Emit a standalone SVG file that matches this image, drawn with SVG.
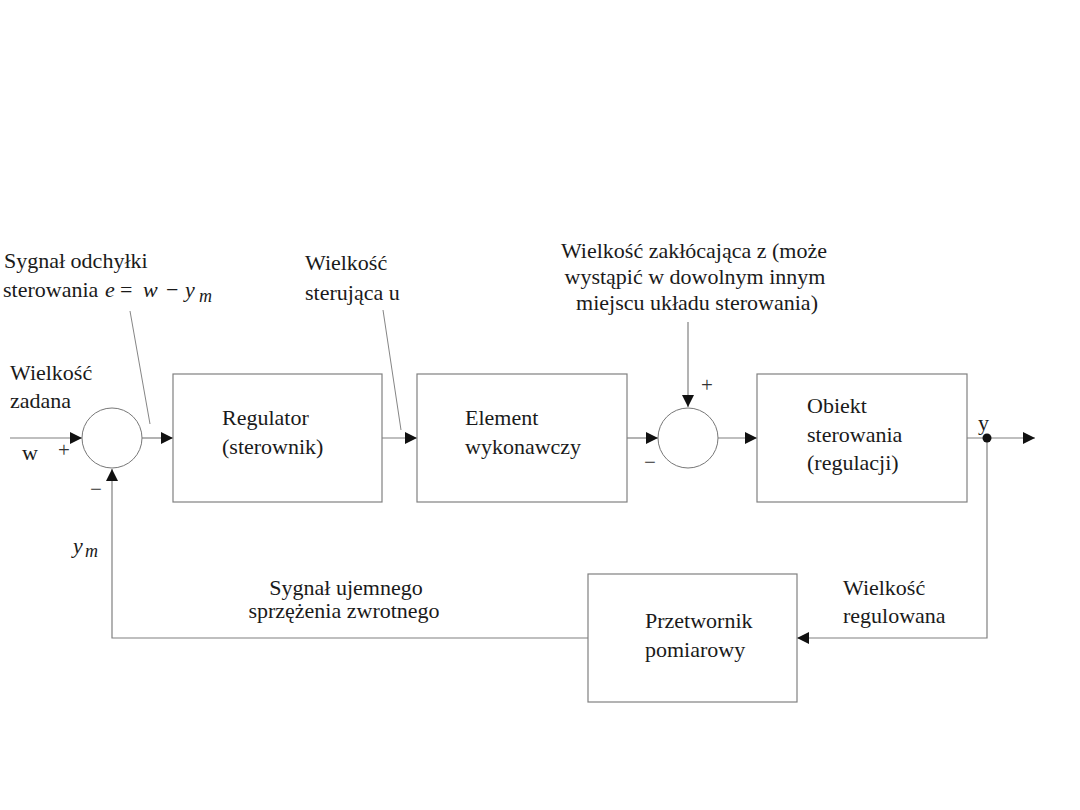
<svg xmlns="http://www.w3.org/2000/svg" width="1080" height="810" viewBox="0 0 1080 810">
<defs>
<marker id="arr" markerUnits="userSpaceOnUse" markerWidth="12" markerHeight="12" refX="12" refY="6" orient="auto">
<path d="M0,0 L12,6 L0,12 z" fill="#111"/>
</marker>
<style>
.box{fill:#fff;stroke:#808080;stroke-width:1.2}
.sum{fill:#fff;stroke:#777;stroke-width:1}
.ln{fill:none;stroke:#808080;stroke-width:1.2}
.lead{fill:none;stroke:#777;stroke-width:0.9}
text{font-family:"Liberation Serif","Times New Roman",serif;font-size:22px;fill:#1a1a1a}
.it{font-style:italic}
.sm{font-size:18px}
.sg{font-size:21px;fill:#333}
</style>
</defs>
<rect width="1080" height="810" fill="#fff"/>
<g id="connectors">
<path class="ln" d="M10,438 H82" marker-end="url(#arr)"/>
<path class="ln" d="M142,438 H173" marker-end="url(#arr)"/>
<path class="ln" d="M382,438 H417" marker-end="url(#arr)"/>
<path class="ln" d="M627,438 H658" marker-end="url(#arr)"/>
<path class="ln" d="M688,322 V407" marker-end="url(#arr)"/>
<path class="ln" d="M718,438 H757" marker-end="url(#arr)"/>
<path class="ln" d="M967,438 H1035" marker-end="url(#arr)"/>
<path class="ln" d="M987,438 V638 H797" marker-end="url(#arr)"/>
<path class="ln" d="M588,638 H112 V469" marker-end="url(#arr)"/>
<circle cx="987" cy="438" r="4.5" fill="#111"/>
<path class="lead" d="M130,311 L150,424"/>
<path class="lead" d="M383,310 L401,430"/>
</g>
<g id="sum1"><circle class="sum" cx="112" cy="438" r="30"/></g>
<g id="sum2"><circle class="sum" cx="688" cy="438" r="30"/></g>
<g id="regulator">
<rect class="box" x="173" y="374" width="209" height="128"/>
<text x="222" y="425">Regulator</text>
<text x="222" y="454">(sterownik)</text>
</g>
<g id="element">
<rect class="box" x="417" y="374" width="210" height="128"/>
<text x="465" y="425">Element</text>
<text x="465" y="454">wykonawczy</text>
</g>
<g id="obiekt">
<rect class="box" x="757" y="374" width="210" height="128"/>
<text x="807" y="413">Obiekt</text>
<text x="807" y="442">sterowania</text>
<text x="807" y="470">(regulacji)</text>
</g>
<g id="przetwornik">
<rect class="box" x="588" y="574" width="209" height="128"/>
<text x="645" y="628">Przetwornik</text>
<text x="645" y="657">pomiarowy</text>
</g>
<g id="labels">
<text x="4" y="268">Sygnał odchyłki</text>
<text x="3" y="297">sterowania</text>
<text x="105" y="297" class="it">e</text>
<text x="120" y="297">=</text>
<text x="143" y="297" class="it">w</text>
<text x="166" y="297">−</text>
<text x="185" y="297" class="it">y</text>
<text x="199" y="302" class="it sm">m</text>
<text x="10" y="380">Wielkość</text>
<text x="10" y="408">zadana</text>
<text x="22" y="460">w</text>
<text x="64" y="457" text-anchor="middle" class="sg">+</text>
<text x="96" y="496" text-anchor="middle" class="sg">−</text>
<text x="73" y="553" class="it">y</text>
<text x="85" y="557" class="it sm">m</text>
<text x="305" y="270">Wielkość</text>
<text x="305" y="300">sterująca u</text>
<text x="694" y="258" text-anchor="middle">Wielkość zakłócająca z (może</text>
<text x="695" y="284" text-anchor="middle">wystąpić w dowolnym innym</text>
<text x="697" y="310" text-anchor="middle">miejscu układu sterowania)</text>
<text x="707" y="392" text-anchor="middle" class="sg">+</text>
<text x="650" y="469" text-anchor="middle" class="sg">−</text>
<text x="978" y="430">y</text>
<text x="346" y="595" text-anchor="middle">Sygnał ujemnego</text>
<text x="344" y="618" text-anchor="middle">sprzężenia zwrotnego</text>
<text x="843" y="595">Wielkość</text>
<text x="843" y="623">regulowana</text>
</g>
</svg>
